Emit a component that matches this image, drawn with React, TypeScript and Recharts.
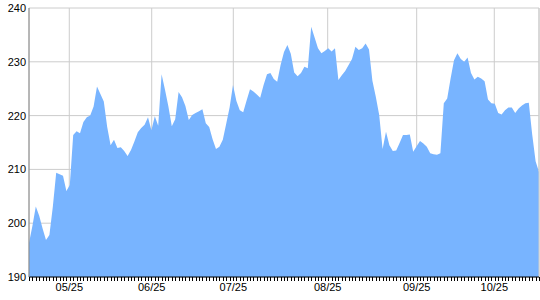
import React from 'react';
import { AreaChart, Area, XAxis, YAxis, CartesianGrid, ReferenceLine } from 'recharts';

const values: number[] = [
  196.3, 199.5, 203.1, 201.4, 199.0, 196.9, 197.8, 203.0, 209.4, 209.1,
  208.8, 206.0, 207.1, 216.4, 217.1, 216.7, 218.8, 219.7, 220.0, 221.7,
  225.4, 224.0, 222.6, 217.9, 214.5, 215.5, 214.0, 214.1, 213.4, 212.5,
  213.6, 215.2, 216.9, 217.7, 218.3, 219.7, 217.3, 219.9, 218.1, 227.7,
  224.8, 221.7, 218.0, 219.3, 224.4, 223.4, 221.8, 219.2, 220.1, 220.5,
  220.8, 221.2, 218.6, 217.9, 215.6, 213.8, 214.2, 215.5, 218.5, 221.5,
  225.7, 222.7, 221.0, 220.6, 222.8, 224.9, 224.5, 223.9, 223.3, 225.7,
  227.7, 227.9, 226.8, 226.3, 229.4, 231.8, 233.1, 231.5, 228.0, 227.3,
  227.9, 229.1, 228.8, 236.5, 234.5, 232.5, 231.6, 232.0, 232.5, 231.9,
  232.5, 226.6, 227.5, 228.3, 229.4, 230.5, 232.8, 232.2, 232.5, 233.4,
  232.3, 226.5, 223.5, 220.1, 213.8, 217.0, 214.5, 213.4, 213.5, 214.9,
  216.4, 216.4, 216.5, 213.3, 214.3, 215.3, 214.8, 214.2, 213.0, 212.8,
  212.7, 213.0, 222.3, 223.2, 226.9, 230.3, 231.6, 230.5, 230.0, 230.8,
  227.9, 226.7, 227.2, 226.9, 226.4, 223.0, 222.3, 222.2, 220.5, 220.2,
  221.0, 221.5, 221.5, 220.5, 221.3, 221.9, 222.3, 222.4, 216.5, 211.5,
  209.5,
];

const tickPositions: number[] = [11.85, 36.09, 60.09, 87.85, 114.03, 136.85];
const tickLabels: string[] = ['05/25', '06/25', '07/25', '08/25', '09/25', '10/25'];
const yTicks: number[] = [190, 200, 210, 220, 230, 240];

const data = values.map((v, i) => ({ i, v }));
const minorTicks = values.map((_, i) => i);
const lastIndex = values.length - 1;
const labelOf = (t: number) => {
  const k = tickPositions.indexOf(t);
  return k >= 0 ? tickLabels[k] : '';
};

const font = { fontFamily: '"Liberation Sans", Arial, sans-serif', fontSize: 11, fill: '#000' };

const MinorTick = (props: any) => {
  const { x, y } = props;
  const px = Math.round(x) + 0.5;
  return <line x1={px} x2={px} y1={y} y2={y + 4} stroke="#000" strokeWidth={1} />;
};

export default function App() {
  return (
    <div style={{ position: 'absolute', left: 0, top: 0, width: 540, height: 300, background: '#fff' }}>
      <AreaChart width={540} height={300} data={data} margin={{ top: 8, right: 1, bottom: 3, left: 0 }}>
        <CartesianGrid xAxisId="lbl" stroke="#cccccc" strokeWidth={1} />
        <XAxis
          dataKey="i"
          type="number"
          domain={[0, lastIndex]}
          ticks={minorTicks}
          interval={0}
          height={4}
          tickSize={0}
          tickMargin={0}
          tick={<MinorTick />}
          tickLine={false}
          axisLine={{ stroke: '#000' }}
        />
        <XAxis
          xAxisId="lbl"
          dataKey="i"
          type="number"
          domain={[0, lastIndex]}
          ticks={tickPositions}
          tickFormatter={labelOf}
          interval={0}
          height={16}
          tickSize={0}
          tickMargin={2}
          tickLine={false}
          axisLine={false}
          tick={font}
        />
        <YAxis
          type="number"
          domain={[190, 240]}
          ticks={yTicks}
          interval={0}
          width={29}
          tickSize={0}
          tickMargin={3}
          tickLine={false}
          axisLine={{ stroke: '#888888' }}
          tick={font}
        />
        <Area
          xAxisId="lbl"
          type="linear"
          dataKey="v"
          stroke="none"
          fill="#78B4FF"
          fillOpacity={1}
          isAnimationActive={false}
        />
        <ReferenceLine xAxisId="lbl" x={lastIndex} stroke="#cccccc" />
      </AreaChart>
    </div>
  );
}
